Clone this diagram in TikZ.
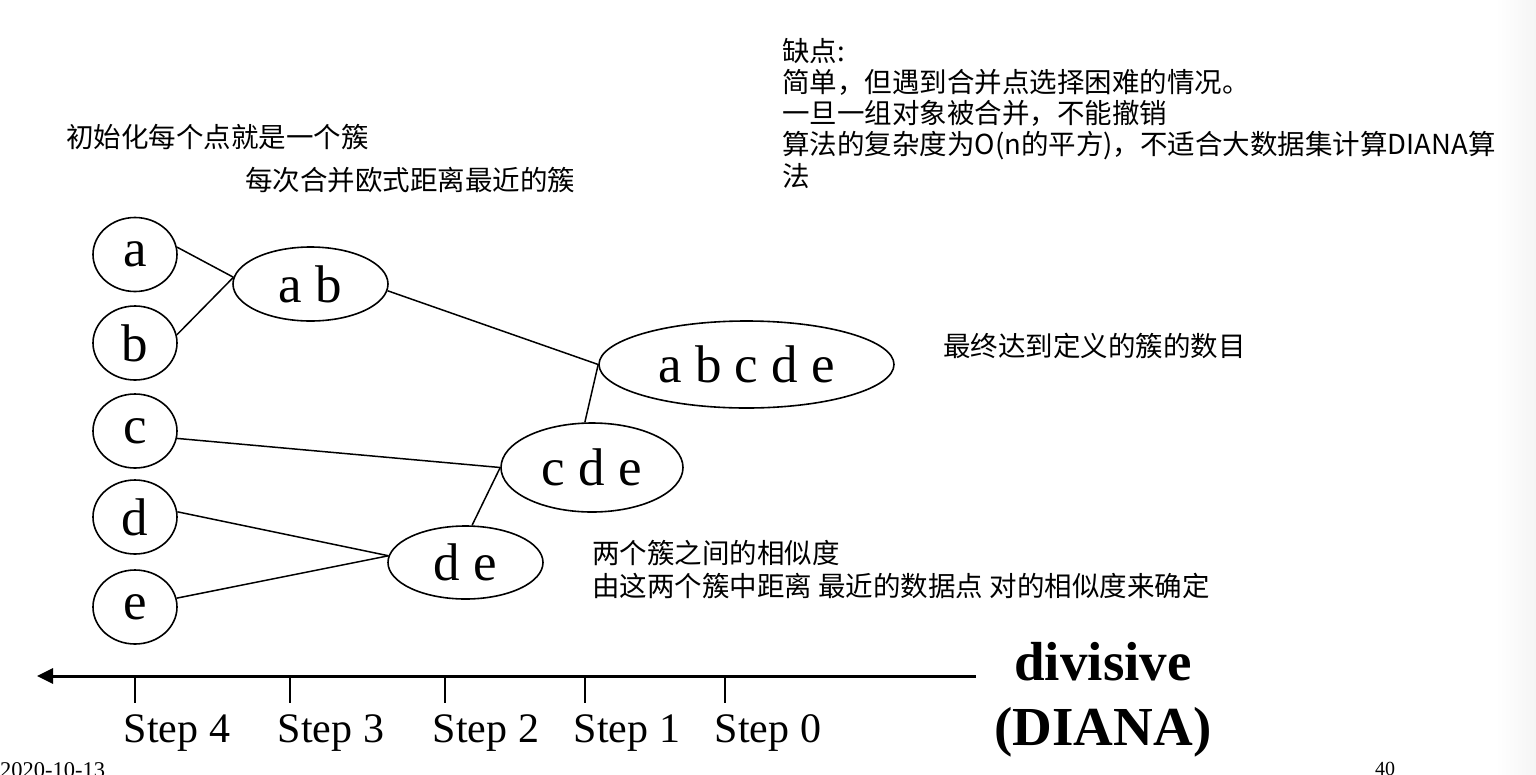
\documentclass[tikz,border=0pt]{standalone}
\usepackage{fontspec}
\setmainfont{Liberation Serif}
\newfontfamily\cjk{Noto Sans CJK SC}
\usetikzlibrary{shapes.geometric,arrows.meta}
\begin{document}
\begin{tikzpicture}[x=1pt,y=-1pt,
  leaf/.style={ellipse, draw, line width=1.6pt, inner sep=0pt, minimum width=84pt, minimum height=74pt, font=\fontsize{53}{60}\selectfont},
  clus/.style={ellipse, draw, line width=1.6pt, inner sep=0pt, font=\fontsize{53}{60}\selectfont},
  link/.style={line width=1.5pt},
  note/.style={font=\cjk\fontsize{27.5}{31.3}\selectfont, inner sep=0pt, align=left, anchor=base west},
  steplabel/.style={font=\fontsize{42}{48}\selectfont, inner sep=0pt, anchor=base},
  tickline/.style={line width=1.5pt}]
\useasboundingbox (0,0) rectangle (1536,774);
\fill[white] (0,0) rectangle (1536,774);
\shade[left color=white, right color=black!4] (1495,0) rectangle (1536,774);

% leaf clusters
\node[leaf] (a) at (135,254.5) {a};
\node[leaf] (b) at (135,343) {b};
\node[leaf] (c) at (135,431) {c};
\node[leaf] (d) at (135,517) {d};
\node[leaf] (e) at (135,607) {e};
% merged clusters
\node[clus, minimum width=155pt, minimum height=74pt] (ab) at (310.5,284) {a b};
\node[clus, minimum width=295pt, minimum height=87pt] (abcde) at (746.5,364.5) {a b c d e};
\node[clus, minimum width=182pt, minimum height=89pt] (cde) at (592,467.5) {c d e};
\node[clus, minimum width=155pt, minimum height=73pt] (de) at (465.5,562.5) {d e};

% links
\draw[link] (a.10) -- (ab.175);
\draw[link] (b.11) -- (ab.175);
\draw[link] (ab.-5) -- (abcde.180);
\draw[link] (cde.99) -- (abcde.180);
\draw[link] (c.-10) -- (cde.180);
\draw[link] (de.80) -- (cde.180);
\draw[link] (d.7) -- (de.175);
\draw[link] (e.12) -- (de.175);

% axis
\coordinate (axR) at (976,676);
\coordinate (axL) at (37,676);
\draw[line width=3pt, -{Triangle[length=16pt,width=15pt]}] (axR) -- (axL);
\foreach \x in {135,290,445,585,725} \draw[tickline] (\x,676) -- (\x,703);

\node[steplabel] (s4) at (177,742) {Step 4};
\node[steplabel] (s3) at (331,742) {Step 3};
\node[steplabel] (s2) at (486,742) {Step 2};
\node[steplabel] (s1) at (627,742) {Step 1};
\node[steplabel] (s0) at (768,742) {Step 0};

\node[font=\bfseries\fontsize{55}{65}\selectfont, inner sep=0pt, align=center, anchor=base] (div) at (1103,745) {divisive\\(DIANA)};

% notes
\node[note] (init) at (66,147.5) {初始化每个点就是一个簇};
\node[note] (merge) at (245,190) {每次合并欧式距离最近的簇};
\node[note] (final) at (943,356.5) {最终达到定义的簇的数目};
\node[note, font=\cjk\fontsize{27.5}{33}\selectfont] (sim) at (592,596.5) {两个簇之间的相似度\\由这两个簇中距离 最近的数据点 对的相似度来确定};
\node[note] (cons) at (782,186.2) {缺点:\\简单，但遇到合并点选择困难的情况。\\一旦一组对象被合并，不能撤销\\算法的复杂度为O(n的平方)，不适合大数据集计算DIANA算\\法};

% footer
\node[font=\fontsize{22.5}{27}\selectfont, inner sep=0pt, anchor=base west] (date) at (0,777) {2020-10-13};
\node[font=\fontsize{20}{24}\selectfont, inner sep=0pt, anchor=base west] (page) at (1375,775.5) {40};
\end{tikzpicture}
\end{document}
